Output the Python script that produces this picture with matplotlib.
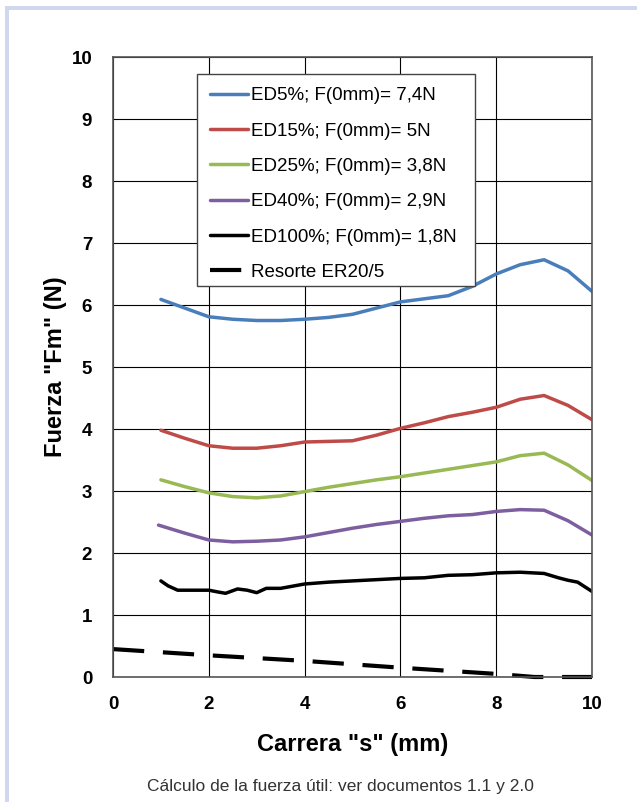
"""Fuerza útil vs carrera: curvas ED5%..ED100% y resorte ER20/5."""

import matplotlib.pyplot as plt
from matplotlib.patches import Rectangle

plt.rcParams["font.family"] = ["Liberation Sans", "DejaVu Sans"]

# %% datos
x_ed = [1.0, 1.5, 2.0, 2.5, 3.0, 3.5, 4.0, 4.5, 5.0, 5.5,
        6.0, 6.5, 7.0, 7.5, 8.0, 8.5, 9.0, 9.5, 10.0]
ed5 = [6.09, 5.95, 5.81, 5.77, 5.75, 5.75, 5.77, 5.80, 5.85, 5.95,
       6.05, 6.10, 6.15, 6.30, 6.50, 6.65, 6.73, 6.55, 6.22]
ed15 = [3.98, 3.85, 3.73, 3.69, 3.69, 3.73, 3.79, 3.80, 3.81, 3.90,
        4.01, 4.10, 4.20, 4.27, 4.35, 4.48, 4.54, 4.38, 4.15]
ed25 = [3.18, 3.07, 2.97, 2.91, 2.89, 2.92, 2.99, 3.06, 3.12, 3.18,
        3.23, 3.29, 3.35, 3.41, 3.47, 3.57, 3.61, 3.42, 3.17]
x_ed40 = [0.95, 1.5, 2.0, 2.5, 3.0, 3.5, 4.0, 4.5, 5.0, 5.5,
          6.0, 6.5, 7.0, 7.5, 8.0, 8.5, 9.0, 9.5, 10.0]
ed40 = [2.45, 2.32, 2.21, 2.18, 2.19, 2.21, 2.26, 2.33, 2.40, 2.46,
        2.51, 2.56, 2.60, 2.62, 2.67, 2.70, 2.69, 2.52, 2.29]
x_ed100 = [1.0, 1.15, 1.35, 1.7, 2.0, 2.2, 2.35, 2.6, 2.8, 3.0, 3.2, 3.5,
           4.0, 4.5, 5.0, 5.5, 6.0, 6.5, 7.0, 7.5, 8.0, 8.5, 9.0, 9.3,
           9.5, 9.7, 10.0]
ed100 = [1.55, 1.47, 1.40, 1.40, 1.40, 1.37, 1.35, 1.42, 1.40, 1.36, 1.43, 1.43,
         1.50, 1.53, 1.55, 1.57, 1.59, 1.60, 1.64, 1.65, 1.68, 1.69, 1.67, 1.60,
         1.56, 1.53, 1.38]
x_res = [0, 2, 4, 6, 8, 8.8, 10]
resorte = [0.45, 0.35, 0.26, 0.15, 0.05, 0.0, 0.0]

labels = [
    "ED5%; F(0mm)= 7,4N",
    "ED15%; F(0mm)= 5N",
    "ED25%; F(0mm)= 3,8N",
    "ED40%; F(0mm)= 2,9N",
    "ED100%; F(0mm)= 1,8N",
    "Resorte ER20/5",
]
colors = ["#4a7ebb", "#be4b48", "#98b954", "#7d5fa0", "black"]

# %% figura
W, H = 637, 802
fig = plt.figure(figsize=(W / 100, H / 100), dpi=100)

# marco claro de la página (arriba e izquierda)
fig.patches.append(Rectangle((5 / W, 1 - 10 / H), 1, 4 / H, transform=fig.transFigure,
                             color="#cfd8ee", lw=0, zorder=0))
fig.patches.append(Rectangle((5 / W, 0), 4 / W, 1 - 6 / H, transform=fig.transFigure,
                             color="#cfd8ee", lw=0, zorder=0))

ax = fig.add_axes([113 / W, 1 - 677 / H, 479 / W, 620 / H])

series = [(x_ed, ed5), (x_ed, ed15), (x_ed, ed25), (x_ed40, ed40), (x_ed100, ed100)]
for (xs, ys), c, lab in zip(series, colors, labels):
    ax.plot(xs, ys, color=c, lw=2.5, label=lab, solid_capstyle="round")
ax.plot(x_res, resorte, color="black", lw=3.0, dashes=(7.5, 4.5), label=labels[5],
        clip_on=False)

ax.set_xlim(0, 10)
ax.set_ylim(0, 10)
ax.set_xticks(range(0, 11, 2))
ax.set_yticks(range(0, 11))
ax.grid(True, color="black", lw=0.8)
ax.set_axisbelow(True)
for sp in ax.spines.values():
    sp.set_color("#555555")
    sp.set_linewidth(1.2)
ax.tick_params(length=0, labelsize=13.5)
for t in ax.get_xticklabels() + ax.get_yticklabels():
    t.set_fontweight("bold")
ax.tick_params(axis="x", pad=14)
ax.tick_params(axis="y", pad=15)

ax.set_xlabel('Carrera "s" (mm)', fontsize=17, fontweight="bold", labelpad=14)
ax.set_ylabel('Fuerza "Fm" (N)', fontsize=17, fontweight="bold", labelpad=3)

# caja de la leyenda dibujada aparte para fijar su tamaño
ax.add_patch(Rectangle((0.175, 0.631), 0.581, 0.342, transform=ax.transAxes,
                       facecolor="white", edgecolor="#444444", lw=1.0, zorder=4.5))
ax.legend(loc="upper left", bbox_to_anchor=(0.175, 0.973), borderaxespad=0,
          fontsize=13.5, handlelength=2.0, handletextpad=0.15, labelspacing=0.97,
          borderpad=0.72, frameon=False)

fig.text(340 / W, 1 - 787 / H, "Cálculo de la fuerza útil: ver documentos 1.1 y 2.0",
         ha="center", va="center", fontsize=12.5, color="#333333")

fig.savefig("out.png", dpi=100)
